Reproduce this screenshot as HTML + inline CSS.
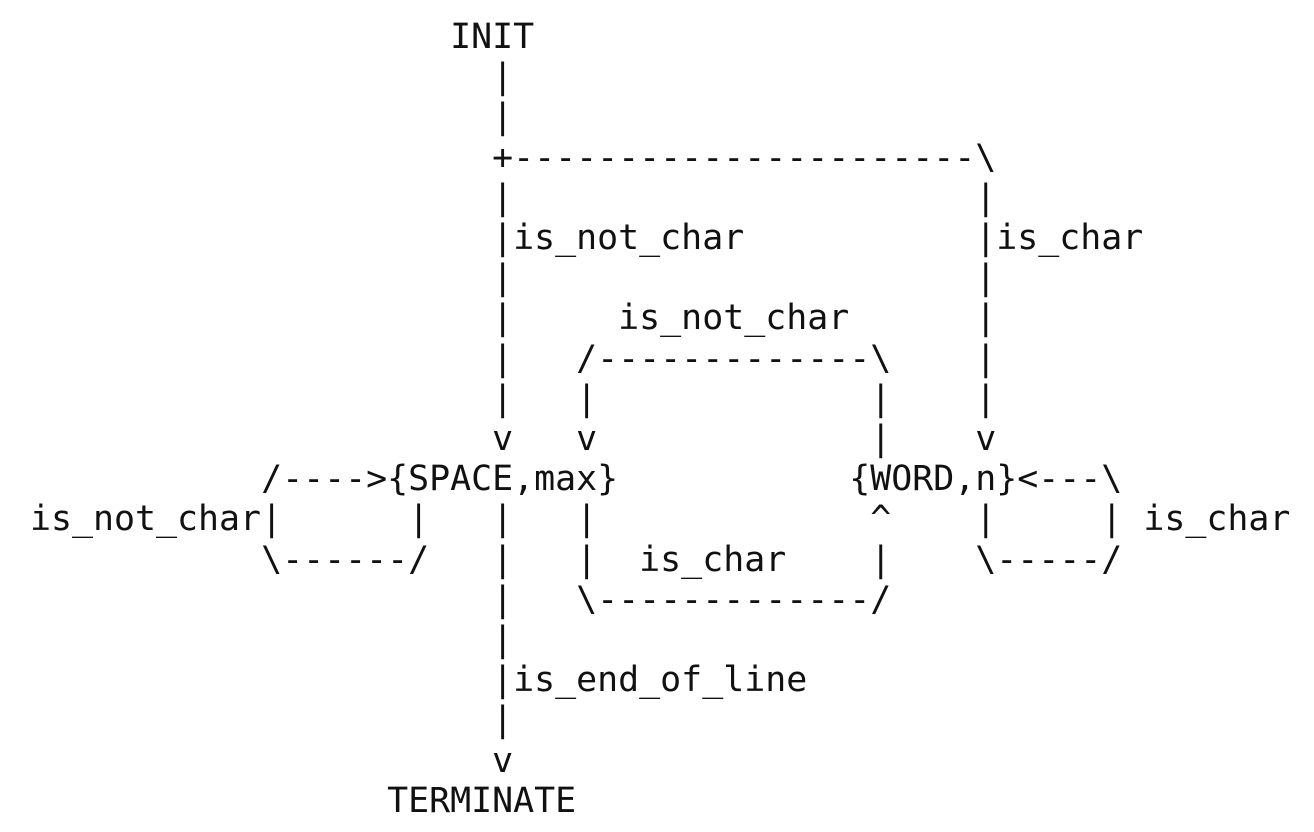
<!DOCTYPE html>
<html><head><meta charset="utf-8"><style>
html,body{margin:0;padding:0;background:#fff;width:1314px;height:832px;overflow:hidden}
pre{position:absolute;left:30px;top:17px;margin:0;font-family:"DejaVu Sans Mono","Liberation Mono",monospace;font-size:34.9px;line-height:40.2px;color:#111}
</style></head><body><pre>                    INIT
                      |
                      |
                      +----------------------\
                      |                      |
                      |is_not_char           |is_char
                      |                      |
                      |     is_not_char      |
                      |   /-------------\    |
                      |   |             |    |
                      v   v             |    v
           /----&gt;{SPACE,max}           {WORD,n}&lt;---\
is_not_char|      |   |   |             ^    |     | is_char
           \------/   |   |  is_char    |    \-----/
                      |   \-------------/
                      |
                      |is_end_of_line
                      |
                      v
                 TERMINATE</pre></body></html>
